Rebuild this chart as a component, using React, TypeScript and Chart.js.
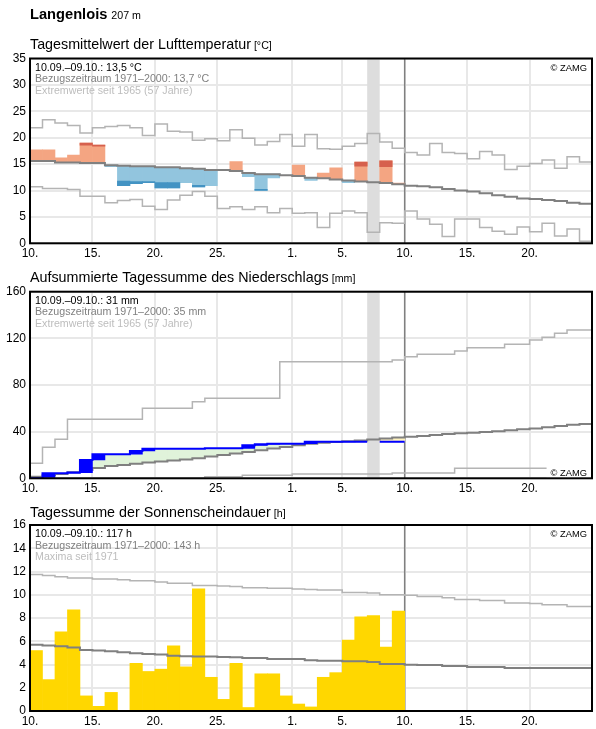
import React, { useEffect, useRef } from "react";
import { Chart, registerables } from "chart.js";

Chart.register(...registerables);

const FONT = "'Liberation Sans', Arial, Helvetica, sans-serif";
Chart.defaults.font.family = FONT;

// x axis: one unit per day, day 0 = 10 September, 45 days shown
const dayCount = 45;
const tickDays = [0, 5, 10, 15, 21, 25, 30, 35, 40];
const tickLabels = ["10.", "15.", "20.", "25.", "1.", "5.", "10.", "15.", "20."];
const todayIndex = 30;
const missingDays = [27];

// daily mean air temperature [°C]
const tempRef = [
  15.6, 15.6, 15.3, 15.3, 15.2, 15.2, 14.8, 14.7, 14.6, 14.6,
  14.4, 14.4, 14.2, 14.1, 13.9, 13.9, 13.7, 13.3, 13.1, 13.1,
  12.9, 12.75, 12.4, 12.3, 12.1, 11.9, 11.7, 11.55, 11.4, 11.2,
  10.9, 10.8, 10.6, 10.3, 10.0, 9.8, 9.5, 9.1, 8.8, 8.5,
  8.4, 8.2, 8.0, 7.7, 7.5,
];
const tempMax = [
  21.9, 23.4, 22.8, 22.3, 20.9, 21.9, 22.1, 22.3, 21.9, 20.4,
  22.6, 21.2, 21.1, 19.5, 19.8, 19.4, 21.5, 19.9, 18.6, 19.3,
  20.6, 18.4, 20.6, 17.9, 17.8, 18.4, 18.9, 20.8, 19.2, 18.0,
  17.2, 16.7, 18.9, 17.2, 17.0, 16.0, 17.4, 16.7, 14.0, 14.6,
  15.1, 15.8, 14.2, 16.4, 15.4,
];
const tempMin = [
  10.7, 10.4, 10.4, 10.2, 8.9, 8.9, 7.7, 8.1, 8.3, 7.0,
  6.4, 8.2, 9.1, 9.8, 8.9, 6.6, 6.9, 6.4, 6.9, 5.8,
  6.6, 5.7, 5.8, 3.0, 5.7, 6.1, 5.8, 2.1, 3.9, 3.8,
  6.1, 4.6, 3.6, 1.3, 4.6, 4.6, 3.0, 2.3, 1.7, 3.1,
  2.2, 3.8, 1.4, 2.7, 0.4,
];
const tempDay: (number | null)[] = [
  17.7, 17.7, 16.2, 16.7, 19.0, 18.6, 14.5, 10.9, 11.3, 11.5,
  10.5, 10.5, 11.5, 10.7, 10.9, 13.9, 15.5, 12.6, 10.0, 12.4,
  12.9, 14.8, 11.9, 13.3, 14.3, 11.5, 15.4, null, 15.6, 11.4,
];
const tempStdDev = [
  3.0, 3.0, 3.0, 3.0, 3.4, 3.2, 3.0, 2.9, 2.9, 2.9,
  2.9, 2.9, 3.0, 3.1, 3.1, 3.0, 3.0, 3.0, 2.9, 3.0,
  3.0, 3.0, 3.0, 3.0, 3.0, 3.0, 2.9, 3.0, 3.1, 3.0,
];

// accumulated precipitation [mm]
const precipRef = [
  1.4, 2.6, 3.6, 5.1, 7.1, 8.8, 10.6, 11.5, 12.4, 13.5,
  14.4, 15.2, 16.1, 17.2, 18.6, 20.0, 21.3, 22.6, 24.0, 25.6,
  26.9, 28.3, 29.7, 30.5, 31.1, 31.8, 32.5, 33.3, 34.1, 35.0,
  35.7, 36.3, 37.1, 38.0, 38.6, 39.1, 39.7, 40.3, 41.1, 42.0,
  42.6, 43.7, 44.9, 46.0, 46.6,
];
const precipMax = [
  12.9, 26.6, 33.5, 50.6, 50.6, 50.6, 50.6, 50.6, 50.6, 60.0,
  60.0, 60.0, 60.0, 65.7, 68.6, 68.6, 68.6, 68.6, 68.6, 68.6,
  100.0, 100.0, 100.0, 100.0, 100.0, 100.0, 100.0, 100.0, 100.0, 101.4,
  104.3, 106.3, 106.3, 106.3, 109.1, 112.0, 112.0, 112.0, 114.9, 114.9,
  118.6, 120.9, 124.3, 127.1, 127.1,
];
const precipMin = [
  0, 0, 0, 0, 0, 0, 0, 0, 0, 0,
  0, 0, 0, 0, 1.4, 1.4, 1.4, 2.6, 2.6, 2.6,
  2.6, 3.6, 3.6, 3.6, 3.6, 3.6, 3.6, 3.6, 3.6, 4.6,
  4.6, 4.6, 4.6, 4.6, 8.6, 8.6, 8.6, 8.6, 8.6, 8.6,
  8.6, 8.6, 8.6, 8.6, 8.6,
];
const precipSum: (number | null)[] = [
  0, 4.3, 4.3, 4.9, 15.7, 20.6, 20.6, 20.6, 23.4, 25.4,
  25.4, 25.4, 25.4, 25.4, 25.7, 25.7, 25.7, 28.3, 29.2, 29.7,
  29.7, 29.7, 31.3, 31.3, 31.3, 31.3, 31.3, null, 31.3, 31.3,
];

// daily sunshine duration [h]
const sunRef = [
  5.7, 5.63, 5.57, 5.46, 5.25, 5.2, 5.14, 5.05, 4.97, 4.9,
  4.85, 4.76, 4.7, 4.68, 4.68, 4.65, 4.62, 4.56, 4.56, 4.47,
  4.47, 4.47, 4.36, 4.33, 4.33, 4.27, 4.27, 4.21, 4.04, 4.04,
  3.98, 3.95, 3.95, 3.87, 3.87, 3.78, 3.78, 3.78, 3.7, 3.7,
  3.7, 3.7, 3.7, 3.7, 3.7,
];
const sunMax = [
  11.75, 11.65, 11.55, 11.45, 11.45, 11.35, 11.35, 11.3, 11.2, 11.2,
  11.1, 11.0, 11.0, 10.8, 10.8, 10.75, 10.7, 10.6, 10.6, 10.55,
  10.55, 10.5, 10.45, 10.4, 10.4, 10.2, 10.2, 10.15, 10.0, 10.0,
  9.95, 9.85, 9.85, 9.75, 9.6, 9.6, 9.5, 9.5, 9.3, 9.3,
  9.25, 9.15, 9.15, 9.0, 9.0,
];
const sunDay = [
  5.2, 2.7, 6.8, 8.7, 1.3, 0.4, 1.6, 0, 4.1, 3.4,
  3.6, 5.6, 3.8, 10.5, 2.9, 1.0, 4.1, 0.3, 3.2, 3.2,
  1.3, 0.6, 0.35, 2.9, 3.3, 6.1, 8.1, 8.2, 5.5, 8.6,
];

const tempNotes = ["10.09.–09.10.: 13,5 °C", "Bezugszeitraum 1971–2000: 13,7 °C", "Extremwerte seit 1965 (57 Jahre)"];
const precipNotes = ["10.09.–09.10.: 31 mm", "Bezugszeitraum 1971–2000: 35 mm", "Extremwerte seit 1965 (57 Jahre)"];
const sunNotes = ["10.09.–09.10.: 117 h", "Bezugszeitraum 1971–2000: 143 h", "Maxima seit 1971"];

const COLORS = {
  grid: "#e8e8e8",
  ref: "#808080",
  extreme: "#b4b4b4",
  warm: "#f4a582",
  warmStrong: "#d6604d",
  cold: "#92c5de",
  coldStrong: "#4393c3",
  wetter: "#e0f3da",
  drier: "#fff3bf",
  rain: "#0000ff",
  sun: "#ffd700",
  band: "#dddddd",
};
const NOTE_COLORS = ["#000000", "#808080", "#bdbdbd"];

type Pt = { x: number; y: number | null };

// each day's value held from the start of the day to the start of the next
function stepPoints(values: (number | null)[]): Pt[] {
  const pts: Pt[] = [];
  values.forEach((v, d) => {
    if (v === null) {
      pts.push({ x: d + 0.5, y: null });
      return;
    }
    pts.push({ x: d, y: v }, { x: d + 1, y: v });
  });
  return pts;
}

const line = (data: Pt[], color: string, width: number) => ({
  type: "line",
  data,
  borderColor: color,
  borderWidth: width,
  pointRadius: 0,
  fill: false,
  tension: 0,
  spanGaps: false,
  borderJoinStyle: "miter",
});

const bars = (data: any[], color: string) => ({
  type: "bar",
  data,
  backgroundColor: color,
  borderWidth: 0,
  grouped: false,
  barPercentage: 1,
  categoryPercentage: 1,
});

// temperature deviation bars
const warmBars: any[] = [];
const warmStrongBars: any[] = [];
const coldBars: any[] = [];
const coldStrongBars: any[] = [];
tempDay.forEach((v, d) => {
  if (v === null) return;
  const r = tempRef[d];
  const s = tempStdDev[d];
  const x = d + 0.5;
  if (v > r) {
    warmBars.push({ x, y: [r, v] });
    if (v > r + s) warmStrongBars.push({ x, y: [r + s, v] });
  } else if (v < r) {
    coldBars.push({ x, y: [v, r] });
    if (v < r - s) coldStrongBars.push({ x, y: [v, r - s] });
  }
});

// precipitation: difference to the reference sum and the daily amount
const wetterBars: any[] = [];
const drierBars: any[] = [];
const dailyRain: any[] = [];
let lastSum = 0;
precipSum.forEach((v, d) => {
  if (v === null) return;
  const r = precipRef[d];
  const x = d + 0.5;
  if (v > r) wetterBars.push({ x, y: [r, v] });
  else if (v < r) drierBars.push({ x, y: [v, r] });
  if (v > lastSum) dailyRain.push({ x, y: [lastSum, v] });
  lastSum = v;
});

const sunBars = sunDay
  .map((v, d) => ({ x: d + 0.5, y: v }))
  .filter((p) => p.y > 0);

type PanelSpec = {
  top: number;
  height: number;
  padTop: number;
  xAxisHeight: number;
  yMax: number;
  yStep: number;
  title: string;
  unit: string;
  titleGap: number;
  notes: string[];
  creditBottom: boolean;
  band: number[];
  header?: boolean;
  datasets: any[];
};

const panels: PanelSpec[] = [
  {
    top: 0,
    height: 265,
    padTop: 58.5,
    xAxisHeight: 21.7,
    yMax: 35,
    yStep: 5,
    title: "Tagesmittelwert der Lufttemperatur",
    unit: "[°C]",
    titleGap: 9.2,
    notes: tempNotes,
    creditBottom: false,
    band: missingDays,
    header: true,
    datasets: [
      line(stepPoints(tempRef), COLORS.ref, 2),
      line(stepPoints(tempMax), COLORS.extreme, 1.5),
      line(stepPoints(tempMin), COLORS.extreme, 1.5),
      bars(warmStrongBars, COLORS.warmStrong),
      bars(coldStrongBars, COLORS.coldStrong),
      bars(warmBars, COLORS.warm),
      bars(coldBars, COLORS.cold),
    ],
  },
  {
    top: 265,
    height: 232,
    padTop: 26.7,
    xAxisHeight: 18.7,
    yMax: 160,
    yStep: 40,
    title: "Aufsummierte Tagessumme des Niederschlags",
    unit: "[mm]",
    titleGap: 9.4,
    notes: precipNotes,
    creditBottom: true,
    band: missingDays,
    datasets: [
      line(stepPoints(precipSum), COLORS.rain, 2),
      bars(dailyRain, COLORS.rain),
      line(stepPoints(precipRef), COLORS.ref, 2),
      line(stepPoints(precipMax), COLORS.extreme, 1.5),
      line(stepPoints(precipMin), COLORS.extreme, 1.5),
      bars(wetterBars, COLORS.wetter),
      bars(drierBars, COLORS.drier),
    ],
  },
  {
    top: 497,
    height: 232,
    padTop: 28,
    xAxisHeight: 18,
    yMax: 16,
    yStep: 2,
    title: "Tagessumme der Sonnenscheindauer",
    unit: "[h]",
    titleGap: 7.7,
    notes: sunNotes,
    creditBottom: false,
    band: [],
    datasets: [
      line(stepPoints(sunRef), COLORS.ref, 2),
      line(stepPoints(sunMax), COLORS.extreme, 1.5),
      bars(sunBars, COLORS.sun),
    ],
  },
];

function decorPlugin(p: PanelSpec) {
  return {
    id: "panelDecor",
    beforeDatasetsDraw(chart: any) {
      const { ctx, chartArea: a, scales } = chart;
      const x = scales.x;
      ctx.save();
      ctx.fillStyle = COLORS.band;
      p.band.forEach((d) => {
        const x0 = x.getPixelForValue(d);
        const x1 = x.getPixelForValue(d + 1);
        ctx.fillRect(x0, a.top, x1 - x0, a.bottom - a.top);
      });
      const xt = x.getPixelForValue(todayIndex);
      ctx.strokeStyle = "#808080";
      ctx.lineWidth = 1.5;
      ctx.beginPath();
      ctx.moveTo(xt, a.top);
      ctx.lineTo(xt, a.bottom);
      ctx.stroke();
      ctx.restore();
    },
    afterDatasetsDraw(chart: any) {
      const { ctx, chartArea: a } = chart;
      ctx.save();
      ctx.textBaseline = "alphabetic";

      // summary lines
      ctx.textAlign = "left";
      ctx.font = `10.67px ${FONT}`;
      const offsets = [12, 23.5, 35];
      p.notes.forEach((t, i) => {
        ctx.fillStyle = NOTE_COLORS[i];
        ctx.fillText(t, a.left + 5, a.top + offsets[i]);
      });

      // credit
      ctx.font = `9.33px ${FONT}`;
      ctx.textAlign = "right";
      const credit = "© ZAMG";
      const cw = ctx.measureText(credit).width;
      const cx = a.right - 5;
      if (p.creditBottom) {
        const by = a.bottom - 2.5;
        ctx.fillStyle = "#ffffff";
        ctx.fillRect(cx - cw - 4, by - 10, a.right - (cx - cw - 4), a.bottom - (by - 10));
        ctx.fillStyle = "#000000";
        ctx.fillText(credit, cx, by);
      } else {
        ctx.fillStyle = "#000000";
        ctx.fillText(credit, cx, a.top + 12);
      }

      // frame
      ctx.strokeStyle = "#000000";
      ctx.lineWidth = 2;
      ctx.strokeRect(a.left, a.top, a.right - a.left, a.bottom - a.top);

      // titles
      ctx.textAlign = "left";
      ctx.fillStyle = "#000000";
      const ty = a.top - p.titleGap;
      ctx.font = `14.3px ${FONT}`;
      ctx.fillText(p.title, 30, ty);
      const tw = ctx.measureText(p.title).width;
      ctx.font = `10.67px ${FONT}`;
      ctx.fillText(p.unit, 30 + tw + 3, ty);

      if (p.header) {
        ctx.font = `bold 14.67px ${FONT}`;
        ctx.fillText("Langenlois", 30, 18.5);
        const hw = ctx.measureText("Langenlois").width;
        ctx.font = `10.67px ${FONT}`;
        ctx.fillText("207 m", 30 + hw + 4, 18.5);
      }
      ctx.restore();
    },
  };
}

function buildConfig(p: PanelSpec): any {
  return {
    type: "line",
    data: { datasets: p.datasets },
    options: {
      responsive: false,
      animation: false,
      events: [],
      layout: { padding: { top: p.padTop, right: 4, bottom: 0, left: 0 } },
      plugins: { legend: { display: false }, tooltip: { enabled: false } },
      scales: {
        x: {
          type: "linear",
          min: 0,
          max: dayCount,
          offset: false,
          afterBuildTicks: (s: any) => {
            s.ticks = tickDays.map((v) => ({ value: v }));
          },
          afterFit: (s: any) => {
            s.height = p.xAxisHeight;
          },
          grid: { color: COLORS.grid, lineWidth: 2, drawTicks: false, offset: false },
          border: { display: false },
          ticks: {
            autoSkip: false,
            maxRotation: 0,
            padding: 3,
            color: "#000000",
            font: { size: 12, family: FONT },
            callback: (_v: any, i: number) => tickLabels[i],
          },
        },
        y: {
          min: 0,
          max: p.yMax,
          afterFit: (s: any) => {
            s.width = 30;
          },
          grid: { color: COLORS.grid, lineWidth: 2, drawTicks: false },
          border: { display: false },
          ticks: {
            stepSize: p.yStep,
            padding: 4,
            color: "#000000",
            font: { size: 12, family: FONT },
          },
        },
      },
    },
    plugins: [decorPlugin(p)],
  };
}

function Panel({ spec }: { spec: PanelSpec }) {
  const ref = useRef<HTMLCanvasElement>(null);
  useEffect(() => {
    const chart = new Chart(ref.current as HTMLCanvasElement, buildConfig(spec));
    return () => chart.destroy();
  }, [spec]);
  return (
    <canvas
      ref={ref}
      width={596}
      height={spec.height}
      style={{ position: "absolute", left: 0, top: spec.top, width: 596, height: spec.height, display: "block" }}
    />
  );
}

export default function App() {
  return (
    <div style={{ position: "absolute", left: 0, top: 0, width: 596, height: 729, background: "#ffffff", overflow: "hidden" }}>
      {panels.map((p, i) => (
        <Panel key={i} spec={p} />
      ))}
    </div>
  );
}
